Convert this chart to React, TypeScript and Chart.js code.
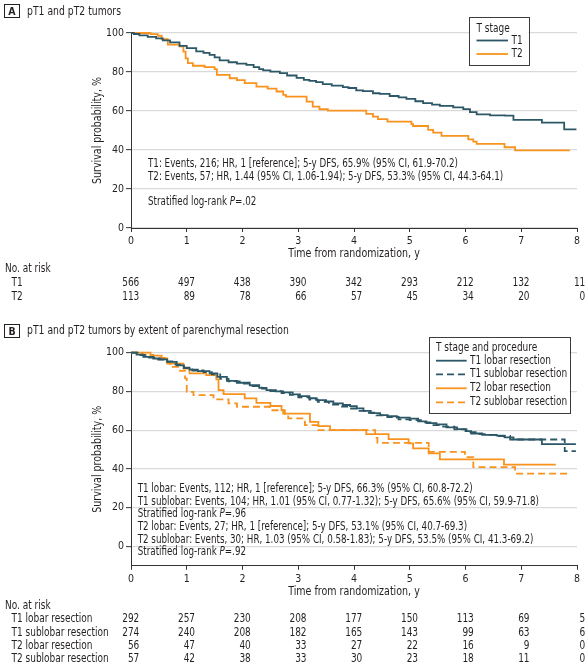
import React, { useEffect, useRef } from "react";
import { Chart, registerables } from "chart.js";

Chart.register(...registerables);

const FONT = "'DejaVu Sans Condensed', 'DejaVu Sans', sans-serif";
const TEXT = "#231f20";
const TEAL = "#2c5766";
const ORANGE = "#f7931e";
const SX = 0.845; // horizontal condensing of text to match the narrow typeface
Chart.defaults.font.family = FONT;
Chart.defaults.color = TEXT;

type Pt = [number, number];

// ---------- shared axis values ----------
const YEAR_TICKS = [0, 1, 2, 3, 4, 5, 6, 7, 8];
const PCT_TICKS = [0, 20, 40, 60, 80, 100];
const X_TITLE = "Time from randomization, y";
const Y_TITLE = "Survival probability, %";

// ---------- Panel A: (years, survival %) ----------
const aT1: Pt[] = [
  [0, 100], [0.05, 99.5], [0.15, 98.8], [0.3, 98.0], [0.45, 97.2], [0.57, 96.2], [0.7, 95.2], [0.87, 93.4],
  [1.0, 92.2], [1.17, 90.6], [1.3, 89.8], [1.41, 88.8], [1.5, 87.5], [1.59, 86.0], [1.75, 85.0], [1.9, 84.3],
  [2.07, 83.7], [2.2, 82.5], [2.3, 81.5], [2.37, 80.8], [2.5, 80.2], [2.67, 79.4], [2.8, 78.2], [2.97, 77.0],
  [3.1, 76.0], [3.2, 75.5], [3.32, 74.8], [3.44, 73.8], [3.6, 73.0], [3.8, 72.2], [3.9, 71.8], [4.04, 70.6],
  [4.16, 70.2], [4.34, 69.1], [4.46, 68.8], [4.64, 67.7], [4.8, 67.0], [4.94, 66.2], [5.1, 65.0], [5.24, 64.0],
  [5.4, 63.3], [5.54, 62.6], [5.78, 61.9], [5.96, 61.0], [6.08, 59.4], [6.2, 58.3], [6.44, 57.8], [6.71, 57.6],
  [6.86, 55.4], [7.37, 54.0], [7.77, 50.6], [7.99, 50.6],
];
const aT2: Pt[] = [
  [0, 100], [0.35, 99.4], [0.48, 98.6], [0.55, 96.9], [0.66, 94.0], [0.87, 93.1], [0.94, 90.5], [0.98, 87.0],
  [1.02, 84.6], [1.11, 83.2], [1.32, 82.5], [1.5, 81.5], [1.54, 78.5], [1.77, 76.8], [1.9, 75.8], [2.04, 74.3],
  [2.25, 72.5], [2.45, 71.5], [2.61, 70.0], [2.73, 68.3], [2.78, 67.4], [3.15, 64.8], [3.26, 62.2], [3.38, 60.9],
  [3.53, 60.2], [4.22, 58.5], [4.34, 57.1], [4.43, 55.8], [4.6, 54.6], [5.03, 53.3], [5.06, 52.3], [5.33, 50.3],
  [5.42, 48.9], [5.57, 47.2], [6.05, 45.5], [6.14, 44.3], [6.2, 43.1], [6.7, 41.4], [6.89, 39.8], [7.87, 39.8],
];
const aRiskT1 = [566, 497, 438, 390, 342, 293, 212, 132, 11];
const aRiskT2 = [113, 89, 78, 66, 57, 45, 34, 20, 0];

// ---------- Panel B ----------
const bT1Lobar: Pt[] = [
  [0, 100], [0.1, 99.0], [0.22, 97.8], [0.4, 97.0], [0.52, 96.6], [0.65, 95.3], [0.82, 93.5], [0.95, 92.3],
  [1.05, 91.3], [1.2, 90.5], [1.41, 89.3], [1.55, 87.5], [1.72, 85.5], [1.9, 84.5], [2.13, 83.2], [2.3, 81.8],
  [2.43, 80.7], [2.6, 80.0], [2.73, 79.5], [2.9, 78.5], [3.03, 77.6], [3.2, 76.5], [3.33, 75.5], [3.5, 74.8],
  [3.63, 73.8], [3.8, 73.0], [3.93, 72.4], [4.05, 71.3], [4.17, 70.0], [4.3, 68.8], [4.47, 67.8], [4.6, 67.2],
  [4.77, 66.5], [5.0, 66.0], [5.15, 64.6], [5.3, 63.6], [5.48, 63.0], [5.66, 61.5], [5.85, 60.5], [6.0, 59.5],
  [6.1, 58.3], [6.3, 57.6], [6.56, 57.2], [6.7, 56.3], [6.86, 55.2], [7.37, 52.8], [7.98, 52.8],
];
const bT1Sub: Pt[] = [
  [0, 100], [0.12, 98.8], [0.25, 97.5], [0.45, 96.5], [0.6, 95.5], [0.8, 93.8], [0.95, 92.0], [1.1, 90.8],
  [1.3, 90.0], [1.45, 88.8], [1.6, 86.5], [1.75, 85.2], [1.95, 84.0], [2.15, 82.8], [2.35, 81.5], [2.5, 80.2],
  [2.7, 79.2], [2.85, 78.2], [3.0, 77.0], [3.2, 75.8], [3.35, 74.6], [3.55, 73.2], [3.75, 72.2], [3.93, 71.2],
  [4.1, 70.0], [4.25, 69.0], [4.4, 67.6], [4.6, 66.8], [4.8, 65.6], [5.0, 65.2], [5.2, 64.0], [5.4, 62.6],
  [5.6, 61.8], [5.8, 60.4], [6.02, 59.0], [6.2, 58.0], [6.4, 57.6], [6.6, 57.0], [6.8, 55.2], [7.78, 49.2],
  [7.98, 49.2],
];
const bT2Lobar: Pt[] = [
  [0, 100], [0.35, 98.5], [0.55, 97.0], [0.65, 94.4], [0.94, 91.8], [1.05, 89.3], [1.35, 88.4], [1.53, 86.2],
  [1.57, 80.7], [1.66, 78.6], [2.04, 76.4], [2.25, 74.1], [2.5, 72.5], [2.7, 70.3], [2.73, 68.6], [3.21, 64.3],
  [3.36, 62.1], [3.57, 60.0], [4.22, 58.0], [4.62, 55.4], [4.98, 53.2], [5.06, 50.6], [5.34, 48.0], [5.54, 44.9],
  [6.69, 42.2], [7.62, 42.2],
];
const bT2Sub: Pt[] = [
  [0, 100], [0.2, 98.8], [0.4, 97.3], [0.64, 95.3], [0.7, 92.7], [0.88, 90.6], [0.97, 86.7], [1.0, 79.8],
  [1.12, 78.1], [1.48, 75.9], [1.75, 73.8], [1.9, 72.1], [2.49, 70.3], [2.76, 67.8], [2.82, 66.1], [3.12, 62.6],
  [3.36, 60.0], [4.38, 56.0], [4.42, 53.5], [5.34, 48.8], [5.99, 46.1], [6.14, 40.9], [6.89, 37.6], [7.87, 37.6],
];
const bRiskT1Lobar = [292, 257, 230, 208, 177, 150, 113, 69, 5];
const bRiskT1Sub = [274, 240, 208, 182, 165, 143, 99, 63, 6];
const bRiskT2Lobar = [56, 47, 40, 33, 27, 22, 16, 9, 0];
const bRiskT2Sub = [57, 42, 38, 33, 30, 23, 18, 11, 0];

// ---------- types ----------
type Part = { t: string; it?: boolean };
type Series = { label: string; pts: Pt[]; color: string; dash?: number[]; risk: number[] };
type PanelSpec = {
  top: number;
  height: number;
  yMin: number;
  padTop: number;
  padBottom: number;
  series: Series[];
  legend: { box: [number, number, number, number]; title: string; titleY: number; rowY: number[]; lineX: [number, number]; textX: number };
  notes: { x: number; lines: { y: number; parts: Part[] }[] };
  risk: { headerY: number; rowY: number[] };
};

const DASH = [7, 4];

const specA: PanelSpec = {
  top: 0,
  height: 310,
  yMin: 0,
  padTop: 33,
  padBottom: 48.5,
  series: [
    { label: "T1", pts: aT1, color: TEAL, risk: aRiskT1 },
    { label: "T2", pts: aT2, color: ORANGE, risk: aRiskT2 },
  ],
  legend: { box: [469, 17, 59.5, 48], title: "T stage", titleY: 29, rowY: [40.5, 54], lineX: [476.5, 508], textX: 511.5 },
  notes: {
    x: 148,
    lines: [
      { y: 163.7, parts: [{ t: "T1: Events, 216; HR, 1 [reference]; 5-y DFS, 65.9% (95% CI, 61.9-70.2)" }] },
      { y: 176.7, parts: [{ t: "T2: Events, 57; HR, 1.44 (95% CI, 1.06-1.94); 5-y DFS, 53.3% (95% CI, 44.3-64.1)" }] },
      { y: 201.7, parts: [{ t: "Stratified log-rank " }, { t: "P", it: true }, { t: "=.02" }] },
    ],
  },
  risk: { headerY: 269.3, rowY: [282.7, 296.7] },
};

const specB: PanelSpec = {
  top: 316,
  height: 351,
  yMin: -10,
  padTop: 36.7,
  padBottom: 67.7,
  series: [
    { label: "T1 lobar resection", pts: bT1Lobar, color: TEAL, risk: bRiskT1Lobar },
    { label: "T1 sublobar resection", pts: bT1Sub, color: TEAL, dash: DASH, risk: bRiskT1Sub },
    { label: "T2 lobar resection", pts: bT2Lobar, color: ORANGE, risk: bRiskT2Lobar },
    { label: "T2 sublobar resection", pts: bT2Sub, color: ORANGE, dash: DASH, risk: bRiskT2Sub },
  ],
  legend: { box: [429, 21, 140.5, 76], title: "T stage and procedure", titleY: 32, rowY: [44.7, 58.3, 72.3, 86.3], lineX: [436, 466.7], textX: 470 },
  notes: {
    x: 137.7,
    lines: [
      { y: 173, parts: [{ t: "T1 lobar: Events, 112; HR, 1 [reference]; 5-y DFS, 66.3% (95% CI, 60.8-72.2)" }] },
      { y: 186.3, parts: [{ t: "T1 sublobar: Events, 104; HR, 1.01 (95% CI, 0.77-1.32); 5-y DFS, 65.6% (95% CI, 59.9-71.8)" }] },
      { y: 198.5, parts: [{ t: "Stratified log-rank " }, { t: "P", it: true }, { t: "=.96" }] },
      { y: 211.5, parts: [{ t: "T2 lobar: Events, 27; HR, 1 [reference]; 5-y DFS, 53.1% (95% CI, 40.7-69.3)" }] },
      { y: 224.5, parts: [{ t: "T2 sublobar: Events, 30; HR, 1.03 (95% CI, 0.58-1.83); 5-y DFS, 53.5% (95% CI, 41.3-69.2)" }] },
      { y: 236.5, parts: [{ t: "Stratified log-rank " }, { t: "P", it: true }, { t: "=.92" }] },
    ],
  },
  risk: { headerY: 289.7, rowY: [303.3, 316.7, 330, 343.3] },
};

const NOTE_SIZE = 11.5;
const LEGEND_SIZE = 11.8;
const TABLE_SIZE = 11.8;
const TICK_SIZE = 10.5;
const TITLE_SIZE = 12.5;

function condensedText(ctx: CanvasRenderingContext2D, text: string, x: number, y: number, align: CanvasTextAlign) {
  ctx.save();
  ctx.translate(x, y);
  ctx.scale(SX, 1);
  ctx.textAlign = align;
  ctx.fillText(text, 0, 0);
  ctx.restore();
}

function overlayPlugin(spec: PanelSpec) {
  return {
    id: "overlay",
    afterDraw(chart: any) {
      const ctx: CanvasRenderingContext2D = chart.ctx;
      const xs = chart.scales.x;
      const area = chart.chartArea;
      ctx.save();
      ctx.textBaseline = "middle";
      ctx.fillStyle = TEXT;

      // axis titles
      ctx.font = `${TITLE_SIZE}px ${FONT}`;
      condensedText(ctx, X_TITLE, (area.left + area.right) / 2, area.bottom + 25.5, "center");
      ctx.save();
      ctx.translate(98, (area.top + area.bottom) / 2);
      ctx.rotate(-Math.PI / 2);
      condensedText(ctx, Y_TITLE, 0, 0, "center");
      ctx.restore();

      // annotation text
      for (const line of spec.notes.lines) {
        let x = spec.notes.x;
        for (const p of line.parts) {
          ctx.font = `${p.it ? "italic " : ""}${NOTE_SIZE}px ${FONT}`;
          condensedText(ctx, p.t, x, line.y, "left");
          x += ctx.measureText(p.t).width * SX;
        }
      }

      // legend
      const lg = spec.legend;
      const [bx, by, bw, bh] = lg.box;
      ctx.fillStyle = "#ffffff";
      ctx.fillRect(bx, by, bw, bh);
      ctx.strokeStyle = "#3c3c3c";
      ctx.lineWidth = 1;
      ctx.strokeRect(Math.round(bx) + 0.5, Math.round(by) + 0.5, Math.round(bw), Math.round(bh));
      ctx.fillStyle = TEXT;
      ctx.font = `${LEGEND_SIZE}px ${FONT}`;
      condensedText(ctx, lg.title, lg.lineX[0], lg.titleY, "left");
      chart.data.datasets.forEach((ds: any, i: number) => {
        const y = lg.rowY[i];
        ctx.beginPath();
        ctx.setLineDash(ds.borderDash || []);
        ctx.strokeStyle = ds.borderColor;
        ctx.lineWidth = 1.8;
        ctx.moveTo(lg.lineX[0], y);
        ctx.lineTo(lg.lineX[1], y);
        ctx.stroke();
        ctx.setLineDash([]);
        ctx.fillStyle = TEXT;
        condensedText(ctx, ds.label, lg.textX, y, "left");
      });

      // number at risk table
      ctx.font = `${TABLE_SIZE}px ${FONT}`;
      ctx.fillStyle = TEXT;
      condensedText(ctx, "No. at risk", 5, spec.risk.headerY, "left");
      spec.series.forEach((s, r) => {
        const y = spec.risk.rowY[r];
        condensedText(ctx, s.label, 11.5, y, "left");
        s.risk.forEach((v, i) => {
          condensedText(ctx, String(v), xs.getPixelForValue(YEAR_TICKS[i]) + 8.3, y, "right");
        });
      });
      ctx.restore();
    },
  };
}

function KMPanel({ spec }: { spec: PanelSpec }) {
  const ref = useRef<HTMLCanvasElement | null>(null);
  useEffect(() => {
    const canvas = ref.current!;
    const chart = new Chart(canvas, {
      type: "line",
      data: {
        datasets: spec.series.map((s) => ({
          label: s.label,
          data: s.pts.map(([x, y]) => ({ x, y })),
          borderColor: s.color,
          borderDash: s.dash || [],
          borderWidth: 1.8,
          pointRadius: 0,
          stepped: "before" as const,
          fill: false,
          clip: false as any,
        })),
      },
      options: {
        animation: false,
        responsive: false,
        maintainAspectRatio: false,
        events: [],
        layout: { padding: { left: 0, right: 11, top: spec.padTop, bottom: spec.padBottom } },
        plugins: { legend: { display: false }, tooltip: { enabled: false } },
        scales: {
          x: {
            type: "linear",
            min: 0,
            max: 8,
            afterBuildTicks: (s: any) => {
              s.ticks = YEAR_TICKS.map((v) => ({ value: v }));
            },
            afterFit: (s: any) => {
              s.height = 33.5;
            },
            ticks: { font: { size: TICK_SIZE, family: FONT }, color: TEXT, padding: 3, maxRotation: 0, autoSkip: false },
            grid: { drawOnChartArea: false, drawTicks: true, tickLength: 4, tickColor: "#333", tickWidth: 1 },
            border: { display: true, color: "#333", width: 1 },
            title: { display: false },
          },
          y: {
            type: "linear",
            min: spec.yMin,
            max: 100,
            afterBuildTicks: (s: any) => {
              s.ticks = PCT_TICKS.map((v) => ({ value: v }));
            },
            afterFit: (s: any) => {
              s.width = 131;
            },
            ticks: { font: { size: TICK_SIZE, family: FONT }, color: TEXT, padding: 2, autoSkip: false },
            grid: { color: "#dadada", lineWidth: 1.3, drawTicks: true, tickLength: 5, tickColor: "#333", tickWidth: 1 },
            border: { display: true, color: "#333", width: 1 },
            title: { display: false },
          },
        },
      } as any,
      plugins: [overlayPlugin(spec)],
    });
    return () => chart.destroy();
  }, [spec]);
  return (
    <canvas
      ref={ref}
      width={588}
      height={spec.height}
      style={{ position: "absolute", left: 0, top: spec.top, width: 588, height: spec.height }}
    />
  );
}

function Header({ letter, title, top }: { letter: string; title: string; top: number }) {
  return (
    <>
      <div
        style={{
          position: "absolute",
          left: 4,
          top,
          width: 16,
          height: 14,
          border: "1px solid #231f20",
          boxSizing: "border-box",
          font: `bold 10.5px ${FONT}`,
          color: TEXT,
          display: "flex",
          alignItems: "center",
          justifyContent: "center",
          lineHeight: "12px",
        }}
      >
        {letter}
      </div>
      <div
        style={{
          position: "absolute",
          left: 26.5,
          top: top - 0.5,
          height: 15,
          lineHeight: "15px",
          font: `12.2px ${FONT}`,
          color: TEXT,
          whiteSpace: "nowrap",
          transform: `scaleX(${SX})`,
          transformOrigin: "left center",
        }}
      >
        {title}
      </div>
    </>
  );
}

export default function App() {
  return (
    <div style={{ position: "absolute", left: 0, top: 0, width: 588, height: 667, background: "#fff", overflow: "hidden" }}>
      <KMPanel spec={specA} />
      <KMPanel spec={specB} />
      <Header letter="A" title="pT1 and pT2 tumors" top={4} />
      <Header letter="B" title="pT1 and pT2 tumors by extent of parenchymal resection" top={323.5} />
    </div>
  );
}
